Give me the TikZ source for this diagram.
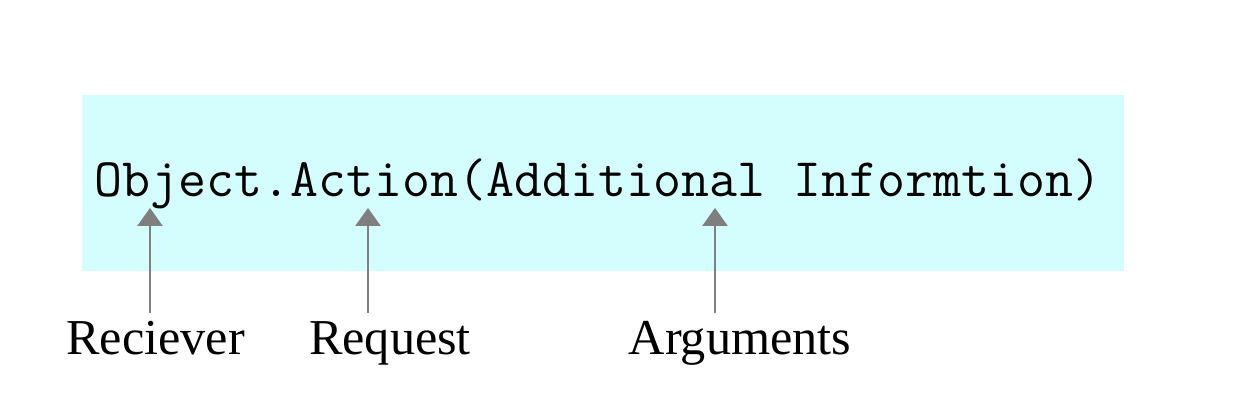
\documentclass[tikz,border=0pt]{standalone}
\usepackage{fontspec}
\setmainfont{Liberation Serif}
\usepackage{xcolor}
\usetikzlibrary{arrows.meta,positioning}

\definecolor{msgcyan}{HTML}{D4FDFE}
\definecolor{arrgray}{HTML}{7F7F7F}

\begin{document}
\begin{tikzpicture}[
    msgbox/.style={fill=msgcyan, draw=none, inner sep=0pt, minimum width=10.42cm, minimum height=1.76cm},
    code/.style={inner sep=0pt, anchor=base west, font=\ttfamily\fontsize{15.45pt}{17pt}\selectfont},
    lbl/.style={inner sep=0pt, anchor=base, font=\fontsize{14.3pt}{17pt}\selectfont},
    arr/.style={-{Triangle[length=0.18cm, width=0.25cm]}, line width=0.7pt, arrgray}
]
    \useasboundingbox (0,0) rectangle (12.6,4.08);
    \node[msgbox] (box) at (6.03,2.25) {};
    \node[code] (call) at (0.94,2.11) {Object.Action(Additional Informtion)};
    % labels under the box
    \node[lbl] (recv) at (1.555,0.53) {Reciever};
    \node[lbl] (req) at (3.90,0.53) {Request};
    \node[lbl] (args) at (7.40,0.53) {Arguments};
    % arrow ends
    \coordinate (recvtip) at (1.50,2.00);
    \coordinate (reqtip) at (3.68,2.00);
    \coordinate (argstip) at (7.15,2.00);
    \coordinate (recvtail) at (1.50,0.95);
    \coordinate (reqtail) at (3.68,0.95);
    \coordinate (argstail) at (7.15,0.95);
    \draw[arr] (recvtail) -- (recvtip);
    \draw[arr] (reqtail) -- (reqtip);
    \draw[arr] (argstail) -- (argstip);
\end{tikzpicture}
\end{document}
